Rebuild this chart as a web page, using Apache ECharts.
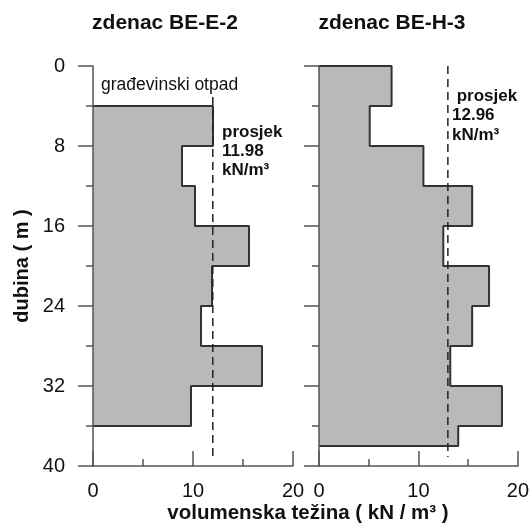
<!DOCTYPE html>
<html>
<head>
<meta charset="utf-8">
<script src="https://cdn.jsdelivr.net/npm/echarts@6/dist/echarts.min.js"></script>
<style>
html,body{margin:0;padding:0;background:#fff;}
#chart{width:532px;height:524px;}
</style>
</head>
<body>
<div id="chart"></div>
<script>
// ---- data ----
const panelTitles = ['zdenac BE-E-2', 'zdenac BE-H-3'];
const leftDepthFrom = [4, 8, 12, 16, 20, 24, 28, 32];
const leftDepthTo   = [8, 12, 16, 20, 24, 28, 32, 36];
const leftWeight    = [12.0, 8.9, 10.2, 15.6, 11.9, 10.8, 16.9, 9.8];
const rightDepthFrom = [0, 4, 8, 12, 16, 20, 24, 28, 32, 36];
const rightDepthTo   = [4, 8, 12, 16, 20, 24, 28, 32, 36, 38];
const rightWeight    = [7.3, 5.1, 10.5, 15.4, 12.5, 17.1, 15.4, 13.2, 18.4, 14.0];
const leftMean = 11.98;
const rightMean = 12.96;
const leftMeanLabel = ['prosjek', '11.98', 'kN/m³'];
const rightMeanLabel = [' prosjek', '12.96', 'kN/m³'];
const fillNote = 'građevinski otpad';
const xAxisName = 'volumenska težina ( kN / m³ )';
const yAxisName = 'dubina ( m )';
const depthRange = [0, 40];
const weightRange = [0, 20];

// ---- build ----
const FONT = '"Liberation Sans", Arial, sans-serif';
const AX = '#555';
const INK = '#111';

function rows(from, to, w) { return from.map((f, i) => [f, to[i], w[i]]); }
function outline(from, to, w) {
  const pts = [[0, from[0]]];
  for (let i = 0; i < w.length; i++) { pts.push([w[i], from[i]]); pts.push([w[i], to[i]]); }
  pts.push([0, to[to.length - 1]]);
  return pts;
}
function renderRect(params, api) {
  const p0 = api.coord([0, api.value(0)]);
  const p1 = api.coord([api.value(2), api.value(1)]);
  return { type: 'rect', shape: { x: p0[0], y: p0[1], width: p1[0] - p0[0], height: p1[1] - p0[1] },
           style: { fill: '#b9b9b9' } };
}
function xAx(i) {
  return {
    type: 'value', gridIndex: i, position: 'bottom', min: weightRange[0], max: weightRange[1], interval: 10, z: 5,
    axisLine: { show: true, onZero: false, lineStyle: { color: AX, width: 1.5 } },
    axisTick: { show: true, inside: true, length: 15, lineStyle: { color: AX, width: 1.5 } },
    minorTick: { show: true, splitNumber: 2, length: 7, lineStyle: { color: AX, width: 1.5 } },
    splitLine: { show: false }, minorSplitLine: { show: false },
    axisLabel: { show: true, margin: 15, fontSize: 20, color: INK, fontFamily: FONT }
  };
}
function yAx(i, showLabel) {
  return {
    type: 'value', gridIndex: i, position: 'left', inverse: true, min: depthRange[0], max: depthRange[1], interval: 8, z: 5,
    axisLine: { show: true, onZero: false, lineStyle: { color: AX, width: 1.5 } },
    axisTick: { show: true, inside: false, length: 15, lineStyle: { color: AX, width: 1.5 } },
    minorTick: { show: true, splitNumber: 2, length: 7, lineStyle: { color: AX, width: 1.5 } },
    splitLine: { show: false }, minorSplitLine: { show: false },
    axisLabel: { show: showLabel, margin: 28, fontSize: 20, color: INK, fontFamily: FONT }
  };
}
function txt(x, y, text, opts) {
  return Object.assign({ type: 'text', x: x, y: y, z: 10,
    style: Object.assign({ text: text, fill: INK, fontFamily: FONT, fontSize: 17, fontWeight: 'bold',
      textAlign: 'left', textVerticalAlign: 'middle' }, opts || {}) });
}
const dashStyle = { color: '#222', width: 1.5, type: [8, 5] };

const chart = echarts.init(document.getElementById('chart'), null, { renderer: 'canvas' });
chart.setOption({
  animation: false,
  backgroundColor: '#fff',
  grid: [
    { left: 93, top: 66, width: 200, height: 400 },
    { left: 319, top: 66, width: 200, height: 400 }
  ],
  xAxis: [xAx(0), xAx(1)],
  yAxis: [yAx(0, true), yAx(1, false)],
  series: [
    { type: 'custom', xAxisIndex: 0, yAxisIndex: 0, renderItem: renderRect,
      encode: { x: 2, y: [0, 1] }, data: rows(leftDepthFrom, leftDepthTo, leftWeight), z: 2 },
    { type: 'custom', xAxisIndex: 1, yAxisIndex: 1, renderItem: renderRect,
      encode: { x: 2, y: [0, 1] }, data: rows(rightDepthFrom, rightDepthTo, rightWeight), z: 2 },
    { type: 'line', xAxisIndex: 0, yAxisIndex: 0, showSymbol: false, symbol: 'none', z: 3,
      lineStyle: { color: '#333', width: 2 }, data: outline(leftDepthFrom, leftDepthTo, leftWeight) },
    { type: 'line', xAxisIndex: 1, yAxisIndex: 1, showSymbol: false, symbol: 'none', z: 3,
      lineStyle: { color: '#333', width: 2 }, data: outline(rightDepthFrom, rightDepthTo, rightWeight) },
    { type: 'line', xAxisIndex: 0, yAxisIndex: 0, showSymbol: false, symbol: 'none', z: 4,
      lineStyle: dashStyle, data: [[leftMean, 3.1], [leftMean, 39.1]] },
    { type: 'line', xAxisIndex: 1, yAxisIndex: 1, showSymbol: false, symbol: 'none', z: 4,
      lineStyle: dashStyle, data: [[rightMean, 0], [rightMean, 39.1]] }
  ],
  graphic: [
    txt(165, 23.5, panelTitles[0], { fontSize: 21, textAlign: 'center' }),
    txt(392, 23.5, panelTitles[1], { fontSize: 21, textAlign: 'center' }),
    txt(101, 85.5, fillNote, { fontWeight: 'normal', fontSize: 17.5 }),
    txt(222, 132.5, leftMeanLabel[0]),
    txt(222, 151, leftMeanLabel[1]),
    txt(222, 170.5, leftMeanLabel[2]),
    txt(452, 96, rightMeanLabel[0]),
    txt(452, 115.5, rightMeanLabel[1]),
    txt(452, 135, rightMeanLabel[2]),
    txt(308, 513, xAxisName, { fontSize: 20.5, textAlign: 'center' }),
    { type: 'text', x: 22.5, y: 266, rotation: Math.PI / 2, z: 10,
      style: { text: yAxisName, fill: INK, fontFamily: FONT, fontSize: 20, fontWeight: 'bold',
        textAlign: 'center', textVerticalAlign: 'middle' } }
  ]
});
</script>
</body>
</html>
